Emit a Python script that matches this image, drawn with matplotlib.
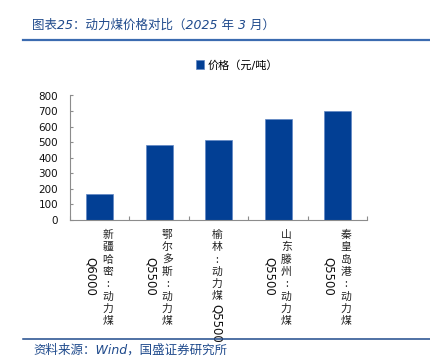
import matplotlib
matplotlib.use('Agg')
import matplotlib.pyplot as plt
from matplotlib import transforms
from matplotlib.lines import Line2D
import numpy as np

# data (元/吨, March 2025)
regions = ['新疆哈密:动力煤', '鄂尔多斯:动力煤', '榆林:动力煤', '山东滕州:动力煤', '秦皇岛港:动力煤']
grades = ['Q6000', 'Q5500', 'Q5500', 'Q5500', 'Q5500']
prices = [170, 485, 513, 652, 698]
yticks = [0, 100, 200, 300, 400, 500, 600, 700, 800]

title = '图表25：动力煤价格对比（2025 年 3 月）'
source = '资料来源：Wind，国盛证券研究所'
legend_label = '价格（元/吨）'

cjk = ['DejaVu Sans', 'Noto Sans CJK SC']
blue = '#023F94'
dark_blue = '#1F4A8C'

W, H = 431, 363
fig = plt.figure(figsize=(W / 100, H / 100), dpi=100)
ax = fig.add_axes([70 / W, 1 - 220 / H, 297.5 / W, 124.5 / H])

x = np.arange(len(prices))
bars = ax.bar(x, prices, width=0.45, color=blue, edgecolor='#5F86C4', linewidth=0.5,
              label=legend_label)

ax.set_xlim(-0.5, len(prices) - 0.5)
ax.set_ylim(0, 800)
ax.set_yticks(yticks)
ax.set_xticks(np.arange(-0.5, len(prices), 1))
ax.set_xticklabels([])
ax.tick_params(axis='y', direction='in', length=2.5, width=0.8, color='#8C8C8C',
               labelsize=7.5, pad=8.5, labelcolor='#111111')
ax.tick_params(axis='x', direction='in', length=3, width=0.8, color='#8C8C8C')
for side in ['top', 'right']:
    ax.spines[side].set_visible(False)
for side in ['left', 'bottom']:
    ax.spines[side].set_color('#8C8C8C')
    ax.spines[side].set_linewidth(0.8)


def off(dx, dy):
    # shift in pixels (dpi = 100)
    return ax.get_xaxis_transform() + transforms.ScaledTranslation(dx / 100, dy / 100, fig.dpi_scale_trans)


# vertical category labels (stacked characters, grade code rotated)
step = 12.3
for i, (cn, q) in enumerate(zip(regions, grades)):
    wrap = len(cn) > 6
    col_x = 8 if wrap else -2
    for k, ch in enumerate(cn):
        ax.text(i, 0, ch, transform=off(col_x, -(15 + step * k)), ha='center', va='center',
                fontsize=7.8, family=['Noto Sans CJK SC'], color='#222222')
    if wrap:
        ax.text(i, 0, q, transform=off(-9, -56), ha='center', va='center', rotation=270,
                fontsize=8.5, family='DejaVu Sans', color='#111111')
    else:
        ax.text(i, 0, q, transform=off(col_x, -(15 + step * (len(cn) - 1) + 7)), ha='center',
                va='top', rotation=270, fontsize=8.5, family='DejaVu Sans', color='#111111')

fig.legend(handles=[bars], labels=[legend_label], loc='center left',
           bbox_to_anchor=(190 / W, 1 - 65 / H), frameon=False, borderpad=0,
           handlelength=0.8, handleheight=0.8, handletextpad=0.25,
           prop={'family': cjk, 'size': 8})

fig.text(32 / W, 1 - 25 / H, title, ha='left', va='center', fontsize=9,
         family=cjk, style='italic', color=dark_blue)
fig.add_artist(Line2D([23 / W, 1], [1 - 40 / H, 1 - 40 / H], transform=fig.transFigure,
                      color='#3B6BB0', linewidth=1.6))
fig.add_artist(Line2D([23 / W, 1], [1 - 339 / H, 1 - 339 / H], transform=fig.transFigure,
                      color=dark_blue, linewidth=1.1))
fig.text(33 / W, 1 - 350 / H, source, ha='left', va='center', fontsize=9,
         family=cjk, style='italic', color=dark_blue)

fig.savefig('out.png', dpi=100)
